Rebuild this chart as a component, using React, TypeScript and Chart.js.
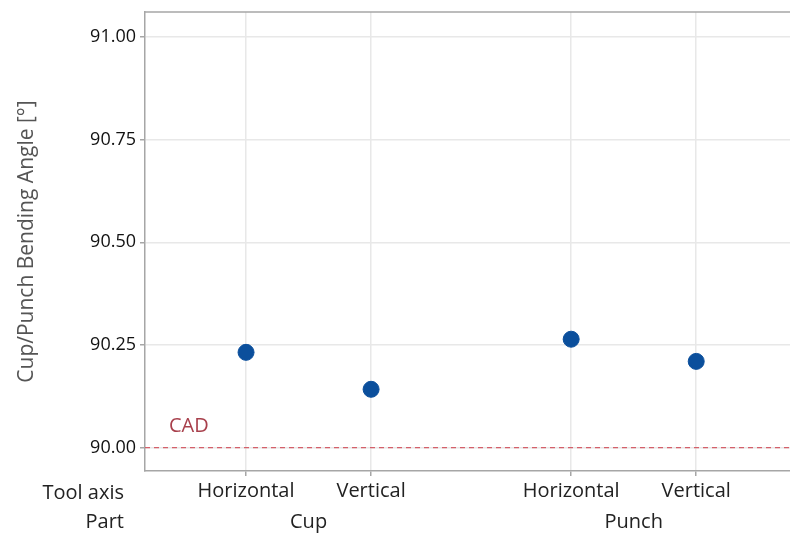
import React, { useEffect, useRef } from "react";
import { Chart, registerables } from "chart.js";

Chart.register(...registerables);

const toolAxis = ["Horizontal", "Vertical", "Horizontal", "Vertical"];
const parts = ["Cup", "Cup", "Punch", "Punch"];
const categoryPos = [1, 2, 3.6, 4.6];
const angles = [90.232, 90.142, 90.264, 90.21];
const yTicks = [90, 90.25, 90.5, 90.75, 91];
const cadValue = 90;
const xRange = [0.192, 5.35];
const yRange = [89.943, 91.061];

const FONT = "'Open Sans', 'Noto Sans', sans-serif";

export default function App() {
  const ref = useRef<HTMLCanvasElement | null>(null);

  useEffect(() => {
    if (!ref.current) return;
    const labelsPlugin = {
      id: "extraLabels",
      afterDraw(chart: any) {
        const { ctx, chartArea, scales } = chart;
        const x = scales.x;
        ctx.save();
        ctx.strokeStyle = "#a6a6a6";
        ctx.lineWidth = 1.5;
        ctx.beginPath();
        ctx.moveTo(chartArea.left, chartArea.top);
        ctx.lineTo(chart.width, chartArea.top);
        ctx.stroke();
        ctx.font = `20px ${FONT}`;
        ctx.fillStyle = "#222";
        ctx.textBaseline = "middle";
        ctx.textAlign = "right";
        ctx.fillText("Tool axis", 124, 493);
        ctx.fillText("Part", 124, 522);
        ctx.textAlign = "center";
        const groups: Record<string, number[]> = {};
        parts.forEach((p, i) => {
          (groups[p] = groups[p] || []).push(categoryPos[i]);
        });
        Object.keys(groups).forEach((p) => {
          const v = groups[p];
          const mid = (Math.min(...v) + Math.max(...v)) / 2;
          ctx.fillText(p, x.getPixelForValue(mid), 522);
        });
        ctx.font = `20px ${FONT}`;
        ctx.fillStyle = "#a8404c";
        ctx.textAlign = "left";
        ctx.fillText("CAD", 169, scales.y.getPixelForValue(cadValue) - 21);
        ctx.restore();
      },
    };

    const chart = new Chart(ref.current, {
      type: "scatter",
      data: {
        datasets: [
          {
            type: "line",
            data: [
              { x: xRange[0], y: cadValue },
              { x: xRange[1], y: cadValue },
            ],
            borderColor: "#d4606a",
            borderWidth: 1.2,
            borderDash: [5, 4],
            pointRadius: 0,
            fill: false,
          } as any,
          {
            data: categoryPos.map((p, i) => ({ x: p, y: angles[i] })),
            backgroundColor: "#0b4f9c",
            borderColor: "#0b4f9c",
            pointRadius: 8,
            pointHoverRadius: 8,
          },
        ],
      },
      options: {
        animation: false,
        responsive: false,
        maintainAspectRatio: false,
        devicePixelRatio: 1,
        layout: { autoPadding: false, padding: { left: 0, top: 12, right: 0, bottom: 0 } },
        plugins: { legend: { display: false }, tooltip: { enabled: false } },
        scales: {
          x: {
            type: "linear",
            min: xRange[0],
            max: xRange[1],
            afterBuildTicks: (s: any) => {
              s.ticks = categoryPos.map((v) => ({ value: v }));
            },
            afterFit: (s: any) => {
              s.height = 62;
              s.paddingLeft = 0;
              s.paddingRight = 0;
            },
            ticks: {
              autoSkip: false,
              maxRotation: 0,
              padding: 3,
              color: "#222",
              font: { family: FONT, size: 20 },
              callback: (_v: any, i: number) => toolAxis[i],
            },
            grid: {
              color: "#e8e8e8",
              lineWidth: 1.5,
              tickColor: "#a6a6a6",
              tickLength: 5,
            },
            border: { color: "#a6a6a6", width: 1.5 },
          },
          y: {
            min: yRange[0],
            max: yRange[1],
            afterBuildTicks: (s: any) => {
              s.ticks = yTicks.map((v) => ({ value: v }));
            },
            afterFit: (s: any) => {
              s.width = 145;
              s.paddingTop = 0;
              s.paddingBottom = 0;
            },
            ticks: {
              padding: 4,
              color: "#111",
              font: { family: FONT, size: 18 },
              callback: (v: any) => Number(v).toFixed(2),
            },
            grid: {
              color: "#e8e8e8",
              lineWidth: 1.5,
              tickColor: "#a6a6a6",
              tickLength: 5,
            },
            border: { color: "#a6a6a6", width: 1.5 },
            title: {
              display: true,
              text: "Cup/Punch Bending Angle [°]",
              color: "#555",
              font: { family: FONT, size: 21 },
              padding: { top: 14, bottom: 8 },
            },
          },
        },
      },
      plugins: [labelsPlugin],
    });
    return () => chart.destroy();
  }, []);

  return (
    <div style={{ position: "absolute", left: 0, top: 0, width: 790, height: 533, background: "#fff" }}>
      <canvas ref={ref} width={790} height={533} style={{ display: "block", width: 790, height: 533 }} />
    </div>
  );
}
